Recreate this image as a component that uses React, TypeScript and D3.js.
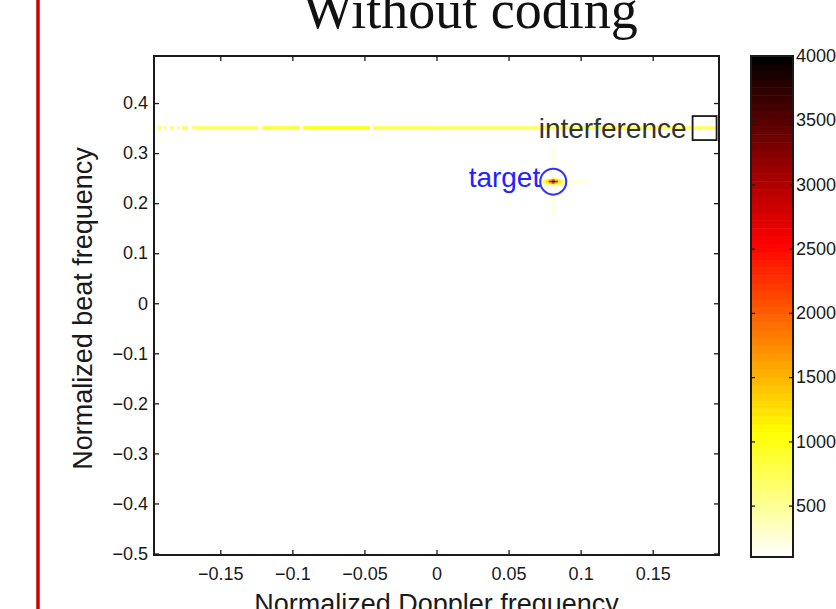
import React, { useEffect, useRef } from "react";
import * as d3 from "d3";

// axis ticks
const dopplerTicks = [-0.15, -0.1, -0.05, 0, 0.05, 0.1, 0.15];
const dopplerTickLabels = ["\u22120.15", "\u22120.1", "\u22120.05", "0", "0.05", "0.1", "0.15"];
const beatTicks = [-0.5, -0.4, -0.3, -0.2, -0.1, 0, 0.1, 0.2, 0.3, 0.4];
const beatTickLabels = ["\u22120.5", "\u22120.4", "\u22120.3", "\u22120.2", "\u22120.1", "0", "0.1", "0.2", "0.3", "0.4"];
const colorTicks = [500, 1000, 1500, 2000, 2500, 3000, 3500, 4000];

// interference ridge (dashed horizontal line at constant beat frequency)
const interferenceBeat = 0.35;
const interferenceStart = [-0.1937, -0.1895, -0.1847, -0.1798, -0.1764, -0.1694, -0.1209, -0.0925, -0.044, 0.0024];
const interferenceEnd = [-0.191, -0.188, -0.1826, -0.1784, -0.1729, -0.1237, -0.0946, -0.0461, 0.0024, 0.196];
const interferenceLevel = [650, 600, 650, 600, 700, 680, 800, 920, 720, 660];

// target peak
const targetDoppler = 0.081;
const targetBeat = 0.243;
const targetRowOffsets = [2, 1, 0, -1, -2];
const targetRowValues = [
  [400, 650, 400],
  [350, 600, 900, 1300, 1900, 1300, 900, 600, 350],
  [350, 550, 850, 1300, 2600, 4000, 2600, 1300, 850, 550, 350],
  [350, 600, 900, 1300, 1900, 1300, 900, 600, 350],
  [400, 650, 400],
];
// faint sidelobe arms around the target
const armBeatRanges = [[0.262, 0.31], [0.175, 0.225]];
const armDopplerRanges = [[0.064, 0.07], [0.093, 0.104]];
const armLevel = 240;

const colorMin = 100;
const colorMax = 4000;

const App = () => {
  const svgRef = useRef<SVGSVGElement>(null);

  useEffect(() => {
    const plot = { left: 154, right: 719, top: 56, bottom: 555 };
    const bar = { left: 751, right: 793, top: 56, bottom: 557 };
    const font = "'Liberation Sans', Arial, Helvetica, sans-serif";
    const ink = "#1a1a1a";

    const x = d3.scaleLinear().domain([-0.196, 0.196]).range([plot.left, plot.right]);
    const y = d3.scaleLinear().domain([-0.503, 0.494]).range([plot.bottom, plot.top]);
    const span = colorMax - colorMin;
    // flipped "hot" colormap: white -> yellow -> red -> black
    const color = d3
      .scaleLinear<string>()
      .domain([colorMin, colorMin + 0.25 * span, colorMin + 0.625 * span, colorMax])
      .range(["#ffffff", "#ffff00", "#ff0000", "#000000"])
      .clamp(true);
    const cy = d3.scaleLinear().domain([colorMin, colorMax]).range([bar.bottom, bar.top]);

    const cellDoppler = 0.0021;
    const cellBeat = 0.007;
    const ridgeBeat = 0.008;

    const svg = d3.select(svgRef.current);
    svg.selectAll("*").remove();

    // slide decorations
    svg
      .append("line")
      .attr("x1", 38)
      .attr("x2", 38)
      .attr("y1", 0)
      .attr("y2", 609)
      .attr("stroke", "#cc0000")
      .attr("stroke-width", 3.5);

    svg
      .append("text")
      .attr("x", 470)
      .attr("y", 28)
      .attr("text-anchor", "middle")
      .attr("font-family", "'Liberation Serif', 'Times New Roman', serif")
      .attr("font-size", 54)
      .attr("fill", "#111")
      .text("Without coding");

    svg
      .append("defs")
      .append("clipPath")
      .attr("id", "plot-clip")
      .append("rect")
      .attr("x", plot.left)
      .attr("y", plot.top)
      .attr("width", plot.right - plot.left)
      .attr("height", plot.bottom - plot.top);

    const heat = svg.append("g").attr("clip-path", "url(#plot-clip)");

    // interference ridge
    heat
      .selectAll("rect.intf")
      .data(interferenceStart.map((s, i) => ({ s, e: interferenceEnd[i], v: interferenceLevel[i] })))
      .join("rect")
      .attr("class", "intf")
      .attr("x", (d) => x(d.s))
      .attr("width", (d) => x(d.e) - x(d.s))
      .attr("y", y(interferenceBeat + ridgeBeat / 2))
      .attr("height", y(interferenceBeat - ridgeBeat / 2) - y(interferenceBeat + ridgeBeat / 2))
      .attr("fill", (d) => color(d.v));

    // faint arms
    armBeatRanges.forEach(([b0, b1]) => {
      heat
        .append("rect")
        .attr("x", x(targetDoppler - cellDoppler / 2))
        .attr("width", x(targetDoppler + cellDoppler / 2) - x(targetDoppler - cellDoppler / 2))
        .attr("y", y(b1))
        .attr("height", y(b0) - y(b1))
        .attr("fill", color(armLevel));
    });
    armDopplerRanges.forEach(([d0, d1]) => {
      heat
        .append("rect")
        .attr("x", x(d0))
        .attr("width", x(d1) - x(d0))
        .attr("y", y(targetBeat + cellBeat / 2))
        .attr("height", y(targetBeat - cellBeat / 2) - y(targetBeat + cellBeat / 2))
        .attr("fill", color(armLevel));
    });

    // target cells
    const cells: { d: number; b: number; v: number }[] = [];
    targetRowValues.forEach((row, r) => {
      const half = (row.length - 1) / 2;
      row.forEach((v, k) => {
        cells.push({
          d: targetDoppler + (k - half) * cellDoppler,
          b: targetBeat + targetRowOffsets[r] * cellBeat * 0.5,
          v,
        });
      });
    });
    heat
      .selectAll("rect.cell")
      .data(cells)
      .join("rect")
      .attr("class", "cell")
      .attr("x", (d) => x(d.d - cellDoppler / 2))
      .attr("width", x(cellDoppler) - x(0) + 0.3)
      .attr("y", (d) => y(d.b + cellBeat / 4))
      .attr("height", y(0) - y(cellBeat / 2) + 0.3)
      .attr("fill", (d) => color(d.v));

    // axes with inward ticks
    const styleAxis = (g) => {
      g.select(".domain").remove();
      g.selectAll("line").attr("stroke", ink).attr("stroke-width", 1.3);
      g.selectAll("text").attr("fill", ink).attr("font-family", font).attr("font-size", 18);
    };

    svg
      .append("g")
      .attr("transform", `translate(0,${plot.bottom})`)
      .call(
        d3
          .axisBottom(x)
          .tickValues(dopplerTicks)
          .tickFormat((_, i) => dopplerTickLabels[i])
          .tickSize(-5)
          .tickPadding(12)
      )
      .call(styleAxis);

    svg
      .append("g")
      .attr("transform", `translate(0,${plot.top})`)
      .call(d3.axisTop(x).tickValues(dopplerTicks).tickFormat(() => "").tickSize(-5))
      .call(styleAxis);

    svg
      .append("g")
      .attr("transform", `translate(${plot.left},0)`)
      .call(
        d3
          .axisLeft(y)
          .tickValues(beatTicks)
          .tickFormat((_, i) => beatTickLabels[i])
          .tickSize(-5)
          .tickPadding(6)
      )
      .call(styleAxis);

    svg
      .append("g")
      .attr("transform", `translate(${plot.right},0)`)
      .call(d3.axisRight(y).tickValues(beatTicks).tickFormat(() => "").tickSize(-5))
      .call(styleAxis);

    svg
      .append("rect")
      .attr("x", plot.left)
      .attr("y", plot.top)
      .attr("width", plot.right - plot.left)
      .attr("height", plot.bottom - plot.top)
      .attr("fill", "none")
      .attr("stroke", ink)
      .attr("stroke-width", 2);

    // annotations
    svg
      .append("circle")
      .attr("cx", x(targetDoppler))
      .attr("cy", y(targetBeat))
      .attr("r", 13)
      .attr("fill", "none")
      .attr("stroke", "#3333ff")
      .attr("stroke-width", 2);

    svg
      .append("text")
      .attr("x", x(targetDoppler) - 13)
      .attr("y", y(targetBeat) + 5)
      .attr("text-anchor", "end")
      .attr("font-family", font)
      .attr("font-size", 28)
      .attr("fill", "#2222ff")
      .text("target");

    svg
      .append("rect")
      .attr("x", x(0.186) - 12)
      .attr("y", y(interferenceBeat) - 12)
      .attr("width", 24)
      .attr("height", 24)
      .attr("fill", "none")
      .attr("stroke", ink)
      .attr("stroke-width", 1.8);

    svg
      .append("text")
      .attr("x", x(0.186) - 18)
      .attr("y", y(interferenceBeat) + 10)
      .attr("text-anchor", "end")
      .attr("font-family", font)
      .attr("font-size", 28)
      .attr("fill", "#333")
      .text("interference");

    // axis titles
    svg
      .append("text")
      .attr("x", (plot.left + plot.right) / 2)
      .attr("y", 613)
      .attr("text-anchor", "middle")
      .attr("font-family", font)
      .attr("font-size", 27)
      .attr("fill", ink)
      .text("Normalized Doppler frequency");

    svg
      .append("text")
      .attr("transform", `translate(92,${(plot.top + plot.bottom) / 2 + 3}) rotate(-90)`)
      .attr("text-anchor", "middle")
      .attr("font-family", font)
      .attr("font-size", 27)
      .attr("fill", ink)
      .text("Normalized beat frequency");

    // colorbar
    const steps = 64;
    const step = span / steps;
    svg
      .append("g")
      .selectAll("rect")
      .data(d3.range(steps))
      .join("rect")
      .attr("x", bar.left)
      .attr("width", bar.right - bar.left)
      .attr("y", (i) => cy(colorMin + (i + 1) * step))
      .attr("height", (i) => cy(colorMin + i * step) - cy(colorMin + (i + 1) * step) + 0.5)
      .attr("fill", (i) => color(colorMin + (i + 0.5) * step));

    svg
      .append("g")
      .attr("transform", `translate(${bar.right},0)`)
      .call(d3.axisRight(cy).tickValues(colorTicks).tickFormat(d3.format("d")).tickSize(-4).tickPadding(3))
      .call(styleAxis);

    svg
      .append("g")
      .attr("transform", `translate(${bar.left},0)`)
      .call(d3.axisLeft(cy).tickValues(colorTicks).tickFormat(() => "").tickSize(-4))
      .call(styleAxis);

    svg
      .append("rect")
      .attr("x", bar.left)
      .attr("y", bar.top)
      .attr("width", bar.right - bar.left)
      .attr("height", bar.bottom - bar.top)
      .attr("fill", "none")
      .attr("stroke", ink)
      .attr("stroke-width", 2);
  }, []);

  return (
    <svg
      ref={svgRef}
      width={836}
      height={609}
      style={{ position: "absolute", left: 0, top: 0, background: "#fff" }}
    />
  );
};

export default App;
